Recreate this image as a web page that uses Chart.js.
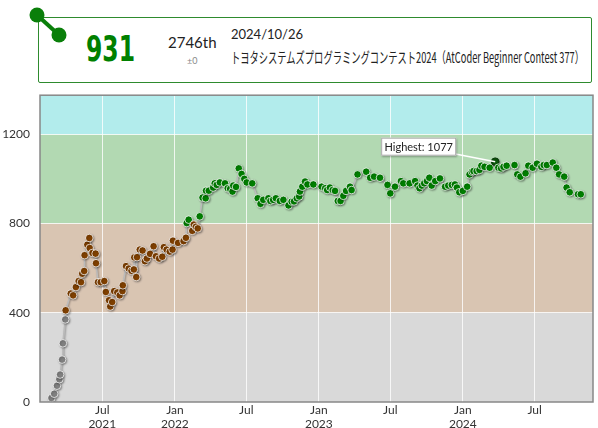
<!DOCTYPE html>
<html>
<head>
<meta charset="utf-8">
<script src="https://cdn.jsdelivr.net/npm/chart.js@4/dist/chart.umd.min.js"></script>
<style>
  body { margin: 0; width: 598px; height: 428px; background: #fff; font-family: Lato, sans-serif; overflow: hidden; position: relative; }
  #chartWrap { position: absolute; left: 0; top: 78px; width: 598px; height: 350px; }
  #headBox { position: absolute; left: 38px; top: 17px; width: 552px; height: 64px; border: 1px solid #2e8b2e; border-radius: 2px; }
  #deco { position: absolute; left: 0; top: 0; }
  .txt { position: absolute; white-space: nowrap; transform-origin: left center; }
  #rating { left: 86px; top: 31px; font: bold 36px 'Liberation Sans Narrow', 'DejaVu Sans Condensed', sans-serif; line-height: 36px; color: #008000; }
  #rank { left: 168px; top: 33px; font-size: 15px; line-height: 18px; color: #222; }
  #diff { left: 187px; top: 55px; font-size: 9px; line-height: 12px; color: #888; }
  #date { left: 231px; top: 25px; font-size: 13px; line-height: 18px; color: #222; }
  #contest { left: 231px; top: 46px; font: 15px 'Noto Sans CJK JP', sans-serif; line-height: 22px; color: #222; }
</style>
</head>
<body>
<div id="headBox"></div>
<svg id="deco" width="80" height="50">
  <line x1="37" y1="15" x2="59" y2="35" stroke="#0a7f0a" stroke-width="4"/>
  <circle cx="37" cy="15" r="7.5" fill="#0a7f0a"/>
  <circle cx="59" cy="35" r="7.5" fill="#0a7f0a"/>
</svg>
<div class="txt" id="rating">931</div>
<div class="txt" id="rank">2746th</div>
<div class="txt" id="diff">±0</div>
<div class="txt" id="date">2024/10/26</div>
<div class="txt" id="contest">トヨタシステムズプログラミングコンテスト2024（AtCoder Beginner Contest 377）</div>
<div id="chartWrap"><canvas id="ratingChart"></canvas></div>
<script>
// rating history
const contestDates = [
  '2021-02-22', '2021-03-01', '2021-03-08', '2021-03-14', '2021-03-16', '2021-03-21', '2021-03-23', '2021-03-29', '2021-03-30', '2021-04-12',
  '2021-04-18', '2021-04-25', '2021-05-02', '2021-05-08', '2021-05-11', '2021-05-16', '2021-05-17', '2021-05-24', '2021-05-29', '2021-05-30',
  '2021-06-06', '2021-06-14', '2021-06-15', '2021-06-20', '2021-06-27', '2021-07-06', '2021-07-10', '2021-07-18', '2021-07-21', '2021-07-26',
  '2021-07-31', '2021-08-08', '2021-08-14', '2021-08-21', '2021-08-22', '2021-08-30', '2021-09-06', '2021-09-13', '2021-09-19', '2021-09-20',
  '2021-09-25', '2021-09-27', '2021-10-04', '2021-10-11', '2021-10-17', '2021-10-22', '2021-10-30', '2021-11-08', '2021-11-14', '2021-11-22',
  '2021-11-30', '2021-12-04', '2021-12-11', '2021-12-19', '2021-12-26', '2021-12-27', '2022-01-09', '2022-01-23', '2022-01-29', '2022-01-31',
  '2022-02-05', '2022-02-14', '2022-02-18', '2022-02-23', '2022-02-28', '2022-03-05', '2022-03-12', '2022-03-20', '2022-03-21', '2022-03-28',
  '2022-04-08', '2022-04-12', '2022-04-17', '2022-04-25', '2022-05-08', '2022-05-15', '2022-05-21', '2022-05-27', '2022-05-29', '2022-06-05',
  '2022-06-12', '2022-06-19', '2022-06-26', '2022-07-02', '2022-07-16', '2022-07-30', '2022-08-06', '2022-08-13', '2022-08-26', '2022-08-31',
  '2022-09-07', '2022-09-14', '2022-09-24', '2022-10-03', '2022-10-16', '2022-10-24', '2022-10-30', '2022-11-06', '2022-11-12', '2022-11-14',
  '2022-11-20', '2022-11-27', '2022-12-03', '2022-12-18', '2023-01-08', '2023-01-17', '2023-01-22', '2023-01-29', '2023-02-05', '2023-02-11',
  '2023-02-18', '2023-02-25', '2023-03-04', '2023-03-11', '2023-03-21', '2023-03-25', '2023-04-09', '2023-05-01', '2023-05-11', '2023-05-21',
  '2023-06-05', '2023-06-24', '2023-07-01', '2023-07-13', '2023-07-28', '2023-08-03', '2023-08-19', '2023-09-02', '2023-09-08', '2023-09-13',
  '2023-09-19', '2023-09-25', '2023-10-02', '2023-10-08', '2023-10-14', '2023-10-23', '2023-11-04', '2023-11-17', '2023-11-25', '2023-12-04',
  '2023-12-12', '2023-12-17', '2023-12-23', '2024-01-01', '2024-01-12', '2024-01-18', '2024-01-24', '2024-01-28', '2024-02-05', '2024-02-12',
  '2024-02-17', '2024-02-25', '2024-03-09', '2024-03-23', '2024-03-31', '2024-04-07', '2024-04-13', '2024-04-21', '2024-05-11', '2024-05-18',
  '2024-05-26', '2024-06-08', '2024-06-15', '2024-06-26', '2024-07-07', '2024-07-18', '2024-07-24', '2024-08-01', '2024-08-16', '2024-08-25',
  '2024-09-01', '2024-09-14', '2024-09-20', '2024-09-28', '2024-10-19', '2024-10-26'
];
const ratings = [
  18, 37, 73, 102, 123, 190, 263, 370, 411, 486,
  478, 515, 542, 537, 575, 587, 658, 705, 735, 690,
  668, 665, 622, 537, 537, 542, 493, 456, 428, 448,
  497, 491, 478, 497, 523, 609, 598, 588, 594, 648,
  560, 649, 683, 679, 631, 643, 664, 698, 653, 643,
  651, 694, 683, 674, 683, 723, 713, 721, 736, 802,
  817, 767, 795, 785, 778, 832, 916, 913, 947, 947,
  961, 980, 973, 984, 980, 958, 955, 943, 970, 964,
  1047, 1022, 1000, 984, 980, 913, 888, 906, 913, 901,
  906, 913, 901, 906, 881, 898, 899, 913, 921, 943,
  965, 988, 975, 975, 965, 958, 950, 961, 950, 946,
  901, 901, 924, 946, 965, 950, 1020, 1032, 1005, 1010,
  1005, 973, 935, 965, 990, 980, 980, 990, 970, 958,
  970, 980, 990, 1005, 970, 990, 1002, 965, 970, 973,
  975, 961, 940, 946, 965, 1020, 1032, 1035, 1035, 1040,
  1059, 1054, 1050, 1077, 1050, 1047, 1054, 1059, 1062, 1020,
  1010, 1025, 1059, 1050, 1068, 1054, 1062, 1062, 1073, 1050,
  1020, 1010, 961, 940, 931, 931
];

const rankLimits = [0, 400, 800, 1200, 1600];
const rankColors = ['#808080', '#804000', '#008000', '#00c0c0'];
const yTicks = [0, 400, 800, 1200];
const xTickDates = ['2021-07-01', '2022-01-01', '2022-07-01', '2023-01-01', '2023-07-01', '2024-01-01', '2024-07-01'];
const xTickLabels = [['Jul', '2021'], ['Jan', '2022'], ['Jul'], ['Jan', '2023'], ['Jul'], ['Jan', '2024'], ['Jul']];
const xRange = ['2021-01-24', '2024-11-26'];
const yRange = [0, 1375];

function toTime(s) {
  const [y, m, d] = s.split('-').map(Number);
  return Date.UTC(y, m - 1, d);
}

function rankColor(r) {
  for (let i = rankLimits.length - 2; i >= 0; i--) {
    if (r >= rankLimits[i]) return rankColors[i];
  }
  return rankColors[0];
}

// fit header texts to the widths seen in the picture
function fitWidth(id, w) {
  const el = document.getElementById(id);
  const cur = el.getBoundingClientRect().width;
  el.style.transform = `scaleX(${w / cur})`;
}
fitWidth('rating', 49);
fitWidth('contest', 353);

const maxRating = Math.max(...ratings);
const maxIdx = ratings.indexOf(maxRating);

const points = contestDates.map((d, i) => ({ x: toTime(d), y: ratings[i] }));
const pointFill = ratings.map((r, i) => i === maxIdx ? '#0b5a0b' : rankColor(r));
const pointEdge = ratings.map((r, i) => i === maxIdx ? '#063806' : 'rgba(255,255,255,0.75)');

const bandsPlugin = {
  id: 'bands',
  beforeDraw(chart) {
    const { ctx, chartArea: a, scales: { y } } = chart;
    ctx.save();
    for (let i = 0; i < rankColors.length; i++) {
      const top = Math.max(a.top, y.getPixelForValue(rankLimits[i + 1]));
      const bot = Math.min(a.bottom, y.getPixelForValue(rankLimits[i]));
      if (bot <= top) continue;
      ctx.globalAlpha = 0.3;
      ctx.fillStyle = rankColors[i];
      ctx.fillRect(a.left, top, a.right - a.left, bot - top);
    }
    ctx.restore();
  },
  beforeDatasetsDraw(chart) {
    const ctx = chart.ctx;
    ctx.save();
    ctx.shadowColor = 'rgba(0,0,0,0.35)';
    ctx.shadowOffsetX = 1;
    ctx.shadowOffsetY = 1;
    ctx.shadowBlur = 2;
  },
  afterDatasetsDraw(chart) {
    chart.ctx.restore();
  },
  afterDraw(chart) {
    const { ctx, chartArea: a } = chart;
    ctx.save();
    ctx.strokeStyle = '#888';
    ctx.lineWidth = 1.5;
    ctx.strokeRect(a.left, a.top, a.right - a.left, a.bottom - a.top);

    // "Highest" label
    const pt = chart.getDatasetMeta(0).data[maxIdx];
    const bx = pt.x - 114, by = pt.y - 24, bw = 75, bh = 18;
    ctx.strokeStyle = '#fff';
    ctx.lineWidth = 1.5;
    ctx.beginPath();
    ctx.moveTo(bx + bw - 2, by + bh - 2);
    ctx.lineTo(pt.x, pt.y);
    ctx.stroke();
    ctx.shadowColor = 'rgba(0,0,0,0.3)';
    ctx.shadowOffsetX = 1;
    ctx.shadowOffsetY = 1;
    ctx.shadowBlur = 2;
    ctx.fillStyle = '#fff';
    ctx.fillRect(bx, by, bw, bh);
    ctx.shadowColor = 'transparent';
    ctx.strokeStyle = '#aaa';
    ctx.lineWidth = 1;
    ctx.strokeRect(bx + 0.5, by + 0.5, bw - 1, bh - 1);
    ctx.fillStyle = '#222';
    ctx.font = '11px Lato, sans-serif';
    ctx.textAlign = 'center';
    ctx.textBaseline = 'middle';
    ctx.fillText('Highest: ' + maxRating, bx + bw / 2, by + bh / 2 + 1);
    ctx.restore();
  }
};

new Chart(document.getElementById('ratingChart'), {
  type: 'line',
  data: {
    datasets: [{
      data: points,
      borderColor: '#bbb',
      borderWidth: 1.5,
      tension: 0,
      pointRadius: 3.8,
      pointBackgroundColor: pointFill,
      pointBorderColor: pointEdge,
      pointBorderWidth: 1
    }]
  },
  options: {
    responsive: true,
    maintainAspectRatio: false,
    animation: false,
    layout: { padding: { top: 0, right: 5, left: 0, bottom: 0 } },
    plugins: { legend: { display: false }, tooltip: { enabled: false } },
    scales: {
      x: {
        type: 'linear',
        min: toTime(xRange[0]),
        max: toTime(xRange[1]),
        afterBuildTicks: s => { s.ticks = xTickDates.map(d => ({ value: toTime(d) })); },
        afterFit: s => { s.height = 26; },
        ticks: {
          autoSkip: false,
          maxRotation: 0,
          padding: 2,
          color: '#333',
          font: { size: 12, family: 'Lato, sans-serif', lineHeight: 1.1 },
          callback: (v, i) => xTickLabels[i]
        },
        grid: { color: 'rgba(255,255,255,0.8)', drawTicks: false },
        border: { display: false }
      },
      y: {
        min: yRange[0],
        max: yRange[1],
        afterBuildTicks: s => { s.ticks = yTicks.map(v => ({ value: v })); },
        afterFit: s => { s.width = 40; },
        ticks: {
          padding: 10,
          color: '#333',
          font: { size: 12, family: 'Lato, sans-serif' },
          callback: v => String(v)
        },
        grid: { color: 'rgba(255,255,255,0.8)', drawTicks: false },
        border: { display: false }
      }
    }
  },
  plugins: [bandsPlugin]
});
</script>
</body>
</html>
